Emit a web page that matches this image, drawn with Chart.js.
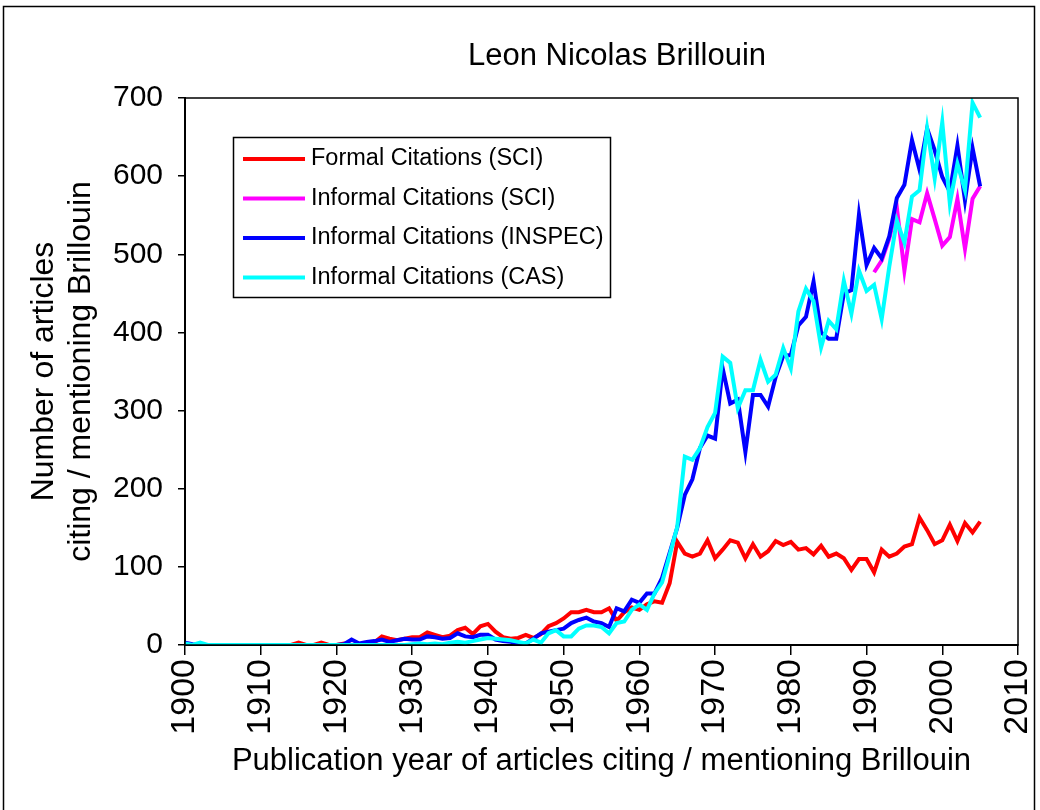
<!DOCTYPE html>
<html>
<head>
<meta charset="utf-8">
<script src="https://cdn.jsdelivr.net/npm/chart.js@4/dist/chart.umd.min.js"></script>
<style>
  body { margin: 0; background: #fff; }
  #wrap { position: relative; width: 1040px; height: 810px; }
</style>
</head>
<body>
<div id="wrap"><canvas id="graph"></canvas></div>
<script>
// publication years 1900 .. 2005
const firstYear = 1900;

const formalSCI = [
  0, 0, 0, 0, 0, 0, 0, 0, 0, 0,            // 1900s
  0, 0, 0, 0, 0, 3, 0, 0, 3, 0,            // 1910s
  0, 2, 0, 0, 2, 3, 11, 8, 6, 8,           // 1920s
  10, 10, 16, 13, 10, 12, 19, 22, 14, 24,  // 1930s
  27, 17, 10, 8, 9, 13, 9, 14, 24, 28,     // 1940s
  34, 42, 42, 45, 42, 42, 47, 31, 42, 48,  // 1950s
  45, 52, 56, 54, 79, 132, 117, 113, 117, 134,          // 1960s
  111, 122, 134, 131, 111, 129, 113, 120, 133, 128,     // 1970s
  132, 122, 124, 116, 127, 113, 117, 111, 96, 110,      // 1980s
  110, 93, 122, 113, 117, 126, 129, 163, 147, 129,      // 1990s
  134, 154, 133, 156, 144, 158                          // 2000s
];

const informalSCI = [
  null, null, null, null, null, null, null, null, null, null,
  null, null, null, null, null, null, null, null, null, null,
  null, null, null, null, null, null, null, null, null, null,
  null, null, null, null, null, null, null, null, null, null,
  null, null, null, null, null, null, null, null, null, null,
  null, null, null, null, null, null, null, null, null, null,
  null, null, null, null, null, null, null, null, null, null,
  null, null, null, null, null, null, null, null, null, null,
  null, null, null, null, null, null, null, null, null, null,
  null, 477, 492, 520, 560, 479, 545, 541, 578, 545,
  511, 522, 571, 507, 571, 587
];

const informalINSPEC = [
  3, 1, 0, 0, 0, 0, 0, 0, 0, 0,
  0, 0, 0, 0, 0, 0, 0, 0, 0, 0,
  0, 1, 7, 2, 4, 5, 7, 4, 6, 8,
  7, 7, 11, 10, 8, 9, 15, 11, 10, 13,
  13, 7, 5, 4, 2, 2, 8, 15, 17, 19,
  21, 28, 32, 35, 30, 28, 23, 47, 43, 58,
  54, 66, 66, 86, 118, 150, 192, 212, 252, 268,
  264, 354, 309, 314, 247, 320, 320, 305, 343, 370,
  371, 409, 420, 465, 400, 392, 392, 450, 454, 551,
  486, 508, 495, 523, 572, 589, 646, 608, 661, 633,
  599, 580, 639, 569, 636, 587
];

const informalCAS = [
  2, 0, 3, 0, 0, 0, 0, 0, 0, 0,
  0, 0, 0, 0, 0, 0, 0, 0, 0, 0,
  0, 0, 0, 0, 0, 0, 0, 0, 0, 0,
  1, 2, 1, 2, 1, 3, 4, 3, 5, 7,
  9, 8, 7, 6, 4, 2, 7, 3, 15, 19,
  11, 11, 21, 25, 25, 23, 15, 28, 30, 45,
  52, 45, 66, 80, 115, 151, 241, 237, 252, 279,
  297, 369, 361, 303, 326, 326, 365, 337, 346, 380,
  354, 427, 456, 440, 381, 415, 404, 466, 424, 479,
  453, 461, 417, 484, 543, 515, 574, 582, 661, 597,
  669, 565, 616, 582, 694, 675
];

const seriesNames = [
  "Formal Citations (SCI)",
  "Informal Citations (SCI)",
  "Informal Citations (INSPEC)",
  "Informal Citations (CAS)"
];
const seriesColors = ["#ff0000", "#ff00ff", "#0000ff", "#00ffff"];
const allSeries = [formalSCI, informalSCI, informalINSPEC, informalCAS];

const FONT = "'Liberation Sans', Arial, sans-serif";

function toPoints(values) {
  return values.map((v, i) => ({x: firstYear + i, y: v}));
}

// legend box sitting inside the plot, plus the frames
const boxLegend = {
  id: "boxLegend",
  beforeDraw(chart) {
    const ctx = chart.ctx;
    ctx.save();
    ctx.strokeStyle = "#000";
    ctx.lineWidth = 1.5;
    ctx.strokeRect(3.5, 6.5, 1031, 820);
    ctx.restore();
  },
  afterDraw(chart) {
    const ctx = chart.ctx;
    const a = chart.chartArea;
    ctx.save();
    ctx.strokeStyle = "#000";
    ctx.lineWidth = 1.5;
    ctx.strokeRect(a.left, a.top, a.right - a.left, a.bottom - a.top);

    const bx = 233, by = 137, bw = 377, bh = 160;
    ctx.fillStyle = "#fff";
    ctx.fillRect(bx, by, bw, bh);
    ctx.lineWidth = 1.5;
    ctx.strokeRect(bx + 0.5, by + 0.5, bw, bh);

    ctx.font = "23.5px " + FONT;
    ctx.textBaseline = "middle";
    ctx.textAlign = "left";
    seriesNames.forEach((name, i) => {
      const y = by + 22 + i * 39.5;
      ctx.strokeStyle = seriesColors[i];
      ctx.lineWidth = 4;
      ctx.beginPath();
      ctx.moveTo(bx + 10, y);
      ctx.lineTo(bx + 72, y);
      ctx.stroke();
      ctx.fillStyle = "#000";
      ctx.fillText(name, bx + 78, y);
    });

    // chart title
    ctx.font = "31px " + FONT;
    ctx.textAlign = "center";
    ctx.fillText("Leon Nicolas Brillouin", 617, 56);
    ctx.restore();
  }
};

const graphRef = document.getElementById("graph");

const chart = new Chart(graphRef, {
  type: "line",
  data: {
    datasets: allSeries.map((vals, i) => ({
      label: seriesNames[i],
      data: toPoints(vals),
      borderColor: seriesColors[i],
      backgroundColor: seriesColors[i],
      borderWidth: 4,
      pointRadius: 0,
      tension: 0,
      spanGaps: false,
      order: 4 - i
    }))
  },
  options: {
    responsive: true,
    maintainAspectRatio: false,
    animation: false,
    layout: {padding: {top: 98, right: 22, left: 0, bottom: 0}},
    plugins: {
      legend: {display: false},
      tooltip: {enabled: false}
    },
    scales: {
      x: {
        type: "linear",
        min: 1900,
        max: 2010,
        afterFit(scale) {
          scale.height = 165;
          scale.paddingLeft = 0;
          scale.paddingRight = 0;
        },
        ticks: {
          stepSize: 10,
          minRotation: 90,
          maxRotation: 90,
          padding: 4,
          color: "#000",
          font: {family: FONT, size: 34},
          callback: (v) => String(v)
        },
        grid: {drawOnChartArea: false, drawTicks: true, tickLength: 10, color: "#000", lineWidth: 1.5},
        border: {color: "#000", width: 2},
        title: {
          display: true,
          text: "Publication year of articles citing / mentioning Brillouin",
          color: "#000",
          font: {family: FONT, size: 31},
          padding: {top: 0, bottom: 30}
        }
      },
      y: {
        min: 0,
        max: 700,
        afterFit(scale) { scale.width = 185; },
        ticks: {
          stepSize: 100,
          padding: 15,
          color: "#000",
          font: {family: FONT, size: 30}
        },
        grid: {drawOnChartArea: false, drawTicks: true, tickLength: 7, color: "#000", lineWidth: 1.5},
        border: {color: "#000", width: 2},
        title: {
          display: true,
          text: ["Number of articles", "citing / mentioning Brillouin"],
          color: "#000",
          font: {family: FONT, size: 32, lineHeight: 1.15},
          padding: {top: 26, bottom: 0}
        }
      }
    }
  },
  plugins: [boxLegend]
});
</script>
</body>
</html>
